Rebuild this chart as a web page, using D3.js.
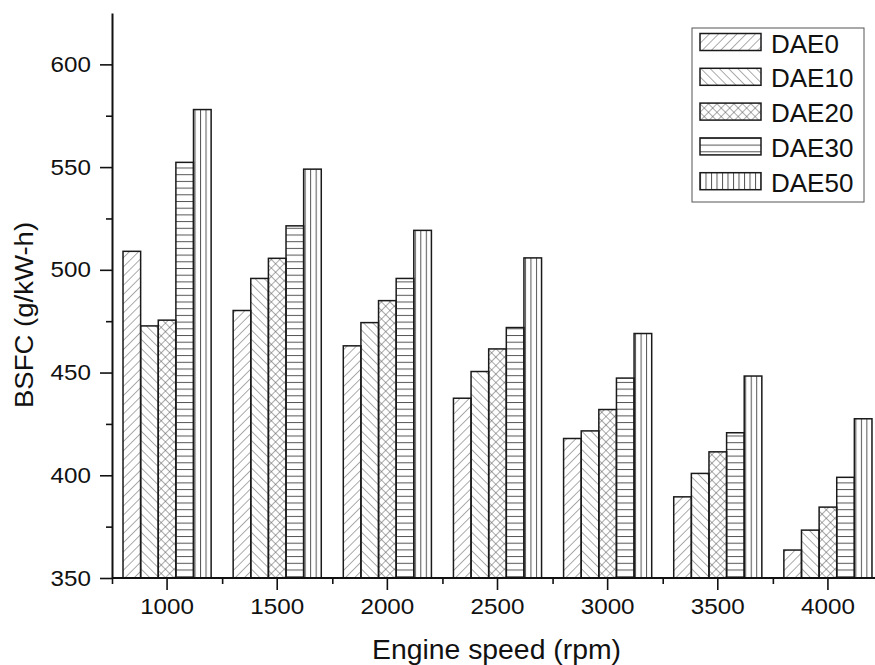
<!DOCTYPE html>
<html><head><meta charset="utf-8">
<script src="https://cdn.jsdelivr.net/npm/d3@7"></script>
<style>
body{margin:0;background:#fff}
text{font-family:Arial,"Liberation Sans",Helvetica,sans-serif;fill:#111}
</style>
</head><body>
<svg id="c" width="875" height="665"></svg>
<script>
const categories = ["1000","1500","2000","2500","3000","3500","4000"];
const seriesNames = ["DAE0","DAE10","DAE20","DAE30","DAE50"];
const DAE0  = [509.0, 480.2, 463.0, 437.5, 417.9, 389.5, 363.6];
const DAE10 = [472.7, 495.8, 474.3, 450.5, 421.6, 400.9, 373.3];
const DAE20 = [475.5, 505.6, 485.0, 461.5, 432.0, 411.4, 384.5];
const DAE30 = [552.3, 521.4, 495.8, 471.9, 447.3, 420.7, 399.0];
const DAE50 = [578.0, 549.0, 519.2, 505.8, 469.0, 448.3, 427.5];
const seriesValues = [DAE0, DAE10, DAE20, DAE30, DAE50];
const yTicks = [350, 400, 450, 500, 550, 600];
const yMinorTicks = [375, 425, 475, 525, 575];
const xLabel = "Engine speed (rpm)";
const yLabel = "BSFC (g/kW-h)";

(function () {
const svg = d3.select("#c");
const mL = 112, mR = 883, mT = 13, mB = 578;

const x = d3.scaleBand().domain(categories).range([mL, mR]).paddingInner(0.2).paddingOuter(0.1);
const xs = d3.scaleBand().domain(seriesNames).range([0, x.bandwidth()]);
const y = d3.scaleLinear().domain([350, 625]).range([mB, mT]);

function stretch(sel, f) {
  sel.each(function () {
    const L = this.getComputedTextLength();
    d3.select(this).attr("textLength", L * f).attr("lengthAdjust", "spacingAndGlyphs");
  });
}

// patterns
const defs = svg.append("defs");
const hatchColor = "#555";
function linePattern(id, size, angle, lines) {
  const p = defs.append("pattern").attr("id", id).attr("patternUnits", "userSpaceOnUse")
    .attr("width", size).attr("height", size);
  if (angle) p.attr("patternTransform", `rotate(${angle})`);
  lines.forEach(l => p.append("line").attr("x1", l[0]).attr("y1", l[1]).attr("x2", l[2]).attr("y2", l[3])
    .attr("stroke", hatchColor).attr("stroke-width", 1));
  return p;
}
linePattern("p0", 6.5, 45, [[0,0,0,6.5]]);
linePattern("p1", 6.5, -45, [[0,0,0,6.5]]);
const p2 = defs.append("pattern").attr("id","p2").attr("patternUnits","userSpaceOnUse")
  .attr("width",6).attr("height",6).attr("patternTransform","rotate(45)");
p2.append("line").attr("x1",0).attr("y1",0).attr("x2",0).attr("y2",6).attr("stroke",hatchColor).attr("stroke-width",1);
p2.append("line").attr("x1",0).attr("y1",0).attr("x2",6).attr("y2",0).attr("stroke",hatchColor).attr("stroke-width",1);
linePattern("p3", 6.7, 0, [[0,0.5,6.7,0.5]]);
linePattern("p4", 5.5, 0, [[0.5,0,0.5,5.5]]);
const fills = ["url(#p0)","url(#p1)","url(#p2)","url(#p3)","url(#p4)"];

// bars
const groups = svg.append("g").selectAll("g").data(categories).join("g")
  .attr("transform", d => `translate(${x(d)},0)`);
const barData = (c, ci) => seriesNames.map((s, si) => ({s, si, v: seriesValues[si][ci]}));
groups.selectAll("rect.h").data(barData)
  .join("rect").attr("class","h")
  .attr("x", d => xs(d.s)).attr("width", xs.bandwidth())
  .attr("y", d => y(d.v)).attr("height", d => y(350) - y(d.v))
  .attr("fill", d => fills[d.si]).attr("stroke", "#1a1a1a").attr("stroke-width", 1.5);

// axes
const axisStyle = g => {
  g.selectAll("path.domain").attr("stroke","#111").attr("stroke-width",2);
  g.selectAll(".tick line").attr("stroke","#111").attr("stroke-width",1.6);
  g.selectAll("text").style("font-size","22px").attr("fill","#111")
    .attr("font-family","Arial, 'Liberation Sans', sans-serif");
};
const yg = svg.append("g").attr("transform",`translate(${mL},0)`)
  .call(d3.axisLeft(y).tickValues(yTicks).tickSize(12).tickSizeOuter(0).tickPadding(9).tickFormat(d3.format("d")))
  .call(axisStyle);
stretch(yg.selectAll("text"), 1.1);
svg.append("g").attr("transform",`translate(${mL},0)`)
  .call(d3.axisLeft(y).tickValues(yMinorTicks).tickSize(6).tickSizeOuter(0).tickFormat(""))
  .call(axisStyle).call(g => g.select("path.domain").remove());

const xg = svg.append("g").attr("transform",`translate(0,${mB})`)
  .call(d3.axisBottom(x).tickSize(12).tickSizeOuter(0).tickPadding(8))
  .call(axisStyle)
  .call(g => g.select("path.domain").attr("d", `M${mL},0H${mR}`));
stretch(xg.selectAll("text"), 1.1);
const xm = d3.scaleLinear().domain([0, categories.length]).range([mL, mR]);
svg.append("g").attr("transform",`translate(0,${mB})`)
  .call(d3.axisBottom(xm).tickValues(d3.range(0, categories.length + 1)).tickSize(6).tickSizeOuter(0).tickFormat(""))
  .call(axisStyle).call(g => g.select("path.domain").remove());

// axis titles
const xt = svg.append("text").attr("x", (mL + mR) / 2 - 1).attr("y", 659).attr("text-anchor","middle")
  .style("font-size","27px").text(xLabel);
stretch(xt, 1.05);
const yt = svg.append("text").attr("transform", `translate(33,315) rotate(-90)`)
  .attr("text-anchor","middle").style("font-size","25.5px").text(yLabel);
stretch(yt, 1.08);

// legend
const lg = svg.append("g");
lg.append("rect").attr("x",692).attr("y",28).attr("width",172).attr("height",174)
  .attr("fill","#fff").attr("stroke","#555").attr("stroke-width",1);
const items = lg.selectAll("g.item").data(seriesNames).join("g").attr("class","item")
  .attr("transform", (d,i) => `translate(700,${33.5 + i*34.8})`);
items.append("rect").attr("width",61).attr("height",17).attr("fill",(d,i)=>fills[i])
  .attr("stroke","#1a1a1a").attr("stroke-width",1.5);
const lt = items.append("text").attr("x",71).attr("y",19).style("font-size","25px").text(d => d);
stretch(lt, 1.04);
})();
</script>
</body></html>
